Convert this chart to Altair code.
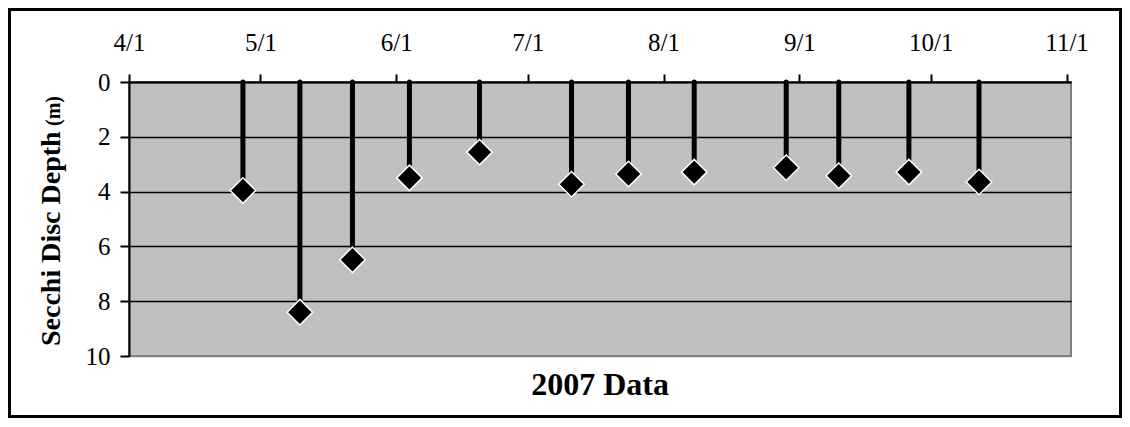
import altair as alt
import pandas as pd

# ---- data ----
dates = ["2007-04-27", "2007-05-10", "2007-05-22", "2007-06-04", "2007-06-20", "2007-07-11",
         "2007-07-24", "2007-08-08", "2007-08-29", "2007-09-10", "2007-09-26", "2007-10-12"]
depths = [3.96, 8.40, 6.49, 3.50, 2.56, 3.73, 3.36, 3.29, 3.13, 3.42, 3.29, 3.65]
tick_months = [4, 5, 6, 7, 8, 9, 10, 11]
y_ticks = [0, 2, 4, 6, 8, 10]
x_title = "2007 Data"
y_title = "Secchi Disc Depth"
y_unit = "(m)"

df = pd.DataFrame({"date": dates, "depth": depths})

FONT = "Liberation Serif"
W, H = 942, 274

x_scale = alt.Scale(type="utc", domain=[alt.DateTime(year=2007, month=4, date=1, utc=True),
                                        alt.DateTime(year=2007, month=11, date=2, utc=True)])
y_scale = alt.Scale(domain=[0, 10], reverse=True, nice=False)

x_axis = alt.Axis(orient="top", title=None, grid=False,
                  values=[alt.DateTime(year=2007, month=m, date=1, utc=True) for m in tick_months],
                  labelExpr="utcFormat(datum.value, '%-m/%-d')",
                  tickSize=8, tickWidth=2, tickColor="black",
                  domainColor="black", domainWidth=2,
                  labelFont=FONT, labelFontSize=25, labelColor="black",
                  labelPadding=19, labelFlush=False, labelOverlap=False)
y_axis = alt.Axis(orient="left", title=None, values=y_ticks, grid=True,
                  gridColor={"condition": {"test": "datum.value == 10", "value": "#808080"},
                             "value": "black"},
                  gridWidth=1.5,
                  tickSize=9, tickWidth=2, tickColor="black",
                  domainColor="black", domainWidth=2,
                  labelFont=FONT, labelFontSize=25, labelColor="black",
                  labelPadding=10)

base = alt.Chart(df)

stems = base.mark_rule(color="black", strokeWidth=5, strokeCap="round").encode(
    x=alt.X("date:T", scale=x_scale, axis=x_axis),
    y=alt.Y("depth:Q", scale=y_scale, axis=y_axis),
    y2=alt.datum(0),
)

points = base.mark_point(shape="diamond", filled=True, fill="black", stroke="white",
                         strokeWidth=1.5, size=650, opacity=1).encode(
    x=alt.X("date:T", scale=x_scale),
    y=alt.Y("depth:Q", scale=y_scale),
)

one = alt.Data(values=[{"k": 1}])

xt = alt.Chart(one).mark_text(font=FONT, fontSize=32, fontWeight="bold", color="black",
                              align="center", baseline="alphabetic").encode(
    x=alt.value(W / 2), y=alt.value(313), text=alt.value(x_title))

yt = alt.Chart(one).mark_text(font=FONT, fontSize=28, fontWeight="bold", color="black",
                              align="left", baseline="alphabetic", angle=270).encode(
    x=alt.value(-69), y=alt.value(264), text=alt.value(y_title))

yu = alt.Chart(one).mark_text(font=FONT, fontSize=20, fontWeight="bold", color="black",
                              align="right", baseline="alphabetic", angle=270).encode(
    x=alt.value(-69), y=alt.value(14), text=alt.value(y_unit))

frame = alt.Chart(one).mark_rect(fillOpacity=0, stroke="black", strokeWidth=3).encode(
    x=alt.value(-119.5), x2=alt.value(991.5), y=alt.value(-72.5), y2=alt.value(334.5))

chart = alt.layer(frame, stems, points, xt, yt, yu).properties(
    width=W, height=H,
    padding={"left": 121, "top": 74, "right": 51, "bottom": 62},
    autosize=alt.AutoSizeParams(type="none"),
    background="white",
).configure_view(fill="#C0C0C0", stroke="#808080", strokeWidth=2)

chart.save("out.html", embed_options={"renderer": "svg", "actions": False})
